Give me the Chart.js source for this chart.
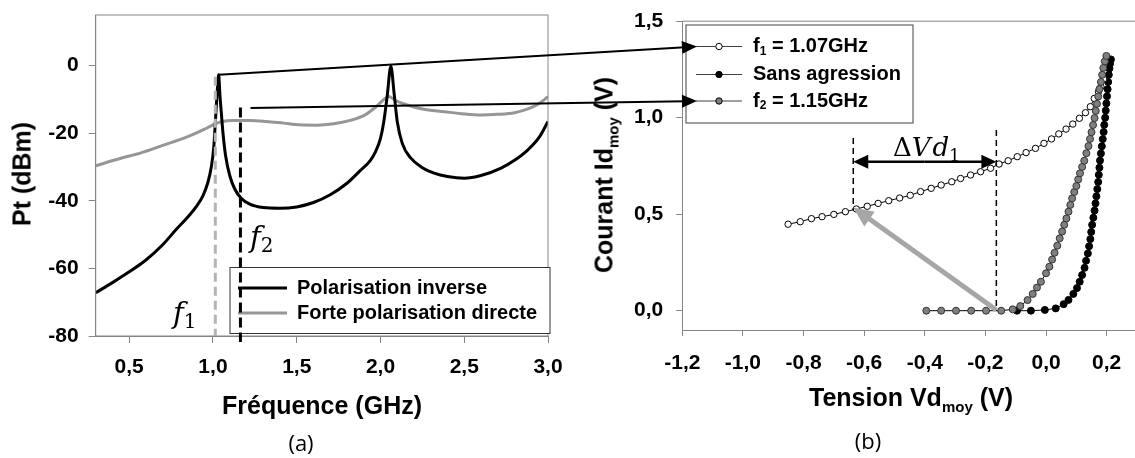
<!DOCTYPE html>
<html>
<head>
<meta charset="utf-8">
<script src="https://cdn.jsdelivr.net/npm/chart.js@4.4.1/dist/chart.umd.min.js"></script>
<style>
  html, body { margin: 0; padding: 0; background: #fff; }
  body { width: 1135px; height: 458px; position: relative; overflow: hidden; font-family: "Liberation Sans", Arial, sans-serif; }
  canvas { position: absolute; top: 0; }
  #chartA { left: 0; }
  #chartB { left: 580px; }
  #overlay { left: 0; pointer-events: none; }
  .lbl { position: absolute; white-space: nowrap; font-weight: bold; font-size: 25px; color: #000; transform: translate(-50%, -50%); }
  .lbl sub { font-size: 15px; vertical-align: -6px; line-height: 0; }
  .rot { transform: translate(-50%, -50%) rotate(-90deg); }
  .panel { position: absolute; font-family: "Open Sans", "Noto Sans", sans-serif; font-size: 22px; color: #000; transform: translate(-50%, -50%); }
</style>
</head>
<body>
<canvas id="chartA" width="580" height="458"></canvas>
<canvas id="chartB" width="562" height="458"></canvas>
<canvas id="overlay" width="1135" height="458"></canvas>
<div class="lbl rot" style="left:22px;top:174px">Pt (dBm)</div>
<div class="lbl" style="left:322px;top:405px">Fréquence (GHz)</div>
<div class="panel" style="left:301px;top:442px">(a)</div>
<div class="lbl rot" style="left:604px;top:175px">Courant Id<sub>moy</sub> (V)</div>
<div class="lbl" style="left:911px;top:397px">Tension Vd<sub>moy</sub> (V)</div>
<div class="panel" style="left:868px;top:440px">(b)</div>
<script>
// (a) puissance transmise en fonction de la fréquence
const freqInverse = [0.30, 0.40, 0.50, 0.60, 0.70, 0.78, 0.85, 0.90, 0.94, 0.97, 0.99, 1.005, 1.015, 1.025, 1.034,
    1.042, 1.050, 1.060, 1.075, 1.10, 1.13, 1.17, 1.22, 1.30, 1.40, 1.50, 1.60, 1.70, 1.80, 1.88, 1.94, 1.97,
    2.00, 2.02, 2.04, 2.062, 2.082, 2.10, 2.13, 2.18, 2.25, 2.32, 2.40, 2.50, 2.60, 2.72, 2.80, 2.88, 2.95, 3.00];
const ptInverse = [-67.2, -64.2, -61.0, -57.5, -53.0, -48.5, -44.8, -41.7, -38.5, -34.5, -30, -24, -16, -8, -2.7,
    -9, -14, -20, -26.5, -32.5, -36.5, -39.3, -41, -42, -42.2, -41.8, -40.5, -38.2, -34.8, -31, -28, -25.5,
    -21.5, -16.5, -9, -0.2, -8.5, -16.5, -23, -27.3, -30.2, -31.8, -32.8, -33.3, -32.5, -30.3, -28, -24.9, -21, -16.5];
const freqDirecte = [0.30, 0.45, 0.57, 0.70, 0.85, 0.95, 1.00, 1.05, 1.12, 1.22, 1.32, 1.42, 1.52, 1.62, 1.72,
    1.82, 1.90, 1.97, 2.02, 2.05, 2.09, 2.15, 2.25, 2.38, 2.50, 2.60, 2.70, 2.80, 2.88, 2.94, 3.00];
const ptDirecte = [-29.6, -27.4, -25.8, -23.6, -21, -18.8, -17.5, -16.6, -16.2, -16.2, -16.5, -17, -17.5, -17.6, -17.2,
    -16.2, -14.8, -12.3, -10, -9.1, -10.3, -11.5, -12.8, -13.6, -14.3, -14.6, -14.4, -13.9, -12.8, -11.4, -9.2];
const ticksFreq = [0.5, 1.0, 1.5, 2.0, 2.5, 3.0];
const ticksPt = [-80, -60, -40, -20, 0];

// (b) courant moyen en fonction de la tension moyenne
const vdF1 = [-0.851, -0.811, -0.774, -0.739, -0.700, -0.662, -0.626, -0.590, -0.554, -0.519, -0.483, -0.448,
    -0.414, -0.379, -0.346, -0.311, -0.282, -0.249, -0.216, -0.183, -0.155, -0.125, -0.095, -0.066, -0.035,
    -0.007, 0.018, 0.042, 0.066, 0.088, 0.110, 0.130, 0.146, 0.159, 0.173, 0.181, 0.190];
const idF1 = [0.448, 0.461, 0.477, 0.487, 0.499, 0.513, 0.527, 0.541, 0.556, 0.570, 0.584, 0.598,
    0.617, 0.634, 0.651, 0.668, 0.685, 0.703, 0.720, 0.738, 0.760, 0.777, 0.798, 0.819, 0.841,
    0.867, 0.890, 0.916, 0.941, 0.967, 0.997, 1.026, 1.057, 1.100, 1.135, 1.160, 1.200];
const vdSans = [-0.096, -0.050, -0.004, 0.032, 0.058, 0.074, 0.090, 0.102, 0.111, 0.119, 0.127, 0.132, 0.138,
    0.142, 0.146, 0.149, 0.152, 0.156, 0.160, 0.163, 0.166, 0.169, 0.172, 0.174, 0.176, 0.178, 0.181, 0.184,
    0.187, 0.190, 0.192, 0.195, 0.197, 0.199, 0.201, 0.203, 0.205, 0.207, 0.209, 0.211, 0.214];
const idSans = [0, 0, 0.004, 0.012, 0.034, 0.056, 0.087, 0.117, 0.150, 0.185, 0.222, 0.259, 0.297,
    0.334, 0.371, 0.408, 0.445, 0.482, 0.519, 0.556, 0.593, 0.630, 0.667, 0.704, 0.741, 0.778, 0.815, 0.852,
    0.889, 0.926, 0.963, 1.000, 1.037, 1.074, 1.111, 1.148, 1.185, 1.222, 1.255, 1.280, 1.302];
const vdF2 = [-0.395, -0.346, -0.297, -0.247, -0.198, -0.148, -0.110, -0.085, -0.061, -0.044, -0.030, -0.017, 0.000,
    0.011, 0.020, 0.028, 0.037, 0.045, 0.053, 0.060, 0.067, 0.074, 0.080, 0.086, 0.093, 0.100, 0.106, 0.112,
    0.119, 0.126, 0.133, 0.140, 0.145, 0.150, 0.155, 0.160, 0.164, 0.168, 0.172, 0.176, 0.181, 0.185, 0.189,
    0.194, 0.199];
const idF2 = [0, 0, 0, 0, 0, 0, 0.007, 0.024, 0.055, 0.087, 0.120, 0.150, 0.194,
    0.228, 0.265, 0.300, 0.337, 0.375, 0.410, 0.445, 0.478, 0.513, 0.548, 0.582, 0.615, 0.646, 0.680, 0.712,
    0.745, 0.777, 0.816, 0.853, 0.890, 0.925, 0.962, 0.998, 1.035, 1.072, 1.110, 1.148, 1.185, 1.222, 1.258,
    1.292, 1.320];
const ticksVd = [-1.2, -1.0, -0.8, -0.6, -0.4, -0.2, 0.0, 0.2];
const ticksId = [0, 0.5, 1.0, 1.5];

// annotations (valeurs dans les unités des axes)
const fLines = [1.014, 1.164];          // traits f1, f2 sur (a)
const fTops = [-3.3, -12.4];
const linkFrom = [[1.034, -2.7], [1.224, -12.5]];  // départ des flèches vers la légende (b)
const dVd1 = [-0.636, -0.164];

const toPoints = (xs, ys) => xs.map((x, i) => ({x: x, y: ys[i]}));
const comma = v => v.toFixed(1).replace('.', ',');
const AXIS_GRAY = '#868686';
const TICK_FONT = {family: 'Liberation Sans', size: 21, weight: 'bold'};
const MATH = '"DejaVu Serif"';

const axis = (min, max, ticks, fmt, size, isX, tickLen, pad) => ({
    type: 'linear', min: min, max: max,
    afterBuildTicks: s => { s.ticks = ticks.map(v => ({value: v})); },
    afterFit: s => {
        if (isX) s.height = size; else s.width = size;
        s.paddingLeft = s.paddingRight = s.paddingTop = s.paddingBottom = 0;
    },
    grid: {drawOnChartArea: false, drawTicks: true, tickLength: tickLen, color: AXIS_GRAY},
    border: {color: AXIS_GRAY, width: 1},
    ticks: {font: TICK_FONT, color: '#000', padding: pad, autoSkip: false, maxRotation: 0, callback: v => fmt(v)}
});

const arrow = (ctx, x1, y1, x2, y2, len, half, width) => {
    const a = Math.atan2(y2 - y1, x2 - x1);
    const c = Math.cos(a), s = Math.sin(a);
    ctx.lineWidth = width;
    ctx.beginPath();
    ctx.moveTo(x1, y1);
    ctx.lineTo(x2 - len * 0.8 * c, y2 - len * 0.8 * s);
    ctx.stroke();
    ctx.beginPath();
    ctx.moveTo(x2, y2);
    ctx.lineTo(x2 - len * c + half * s, y2 - len * s - half * c);
    ctx.lineTo(x2 - len * c - half * s, y2 - len * s + half * c);
    ctx.closePath();
    ctx.fill();
};

const subText = (ctx, x, y, main, sub, rest, font, subFont) => {
    ctx.font = font;
    ctx.fillText(main, x, y);
    x += ctx.measureText(main).width;
    ctx.font = subFont;
    ctx.fillText(sub, x, y + 5);
    x += ctx.measureText(sub).width;
    if (rest) {
        ctx.font = font;
        ctx.fillText(rest, x, y);
    }
};

const panelA = {
    id: 'panelA',
    afterDraw(chart) {
        const {ctx, chartArea: ca, scales: {x, y}} = chart;
        ctx.save();
        ctx.strokeStyle = AXIS_GRAY;
        ctx.lineWidth = 1;
        ctx.strokeRect(ca.left, ca.top, ca.right - ca.left, ca.bottom - ca.top);

        // trait f1
        ctx.setLineDash([9, 5]);
        ctx.lineWidth = 3;
        ctx.strokeStyle = '#b4b4b4';
        const x1 = x.getPixelForValue(fLines[0]);
        ctx.beginPath();
        ctx.moveTo(x1, y.getPixelForValue(fTops[0]));
        ctx.lineTo(x1, ca.bottom);
        ctx.stroke();
        ctx.setLineDash([]);

        // légende
        const lx = 230, ly = 267.5, lw = 320, lh = 66;
        ctx.fillStyle = '#fff';
        ctx.fillRect(lx, ly, lw, lh);
        ctx.strokeStyle = '#333';
        ctx.lineWidth = 1;
        ctx.strokeRect(lx, ly, lw, lh);
        ctx.font = 'bold 20px "Liberation Sans"';
        ctx.textBaseline = 'middle';
        chart.data.datasets.forEach((ds, i) => {
            const ry = 288 + i * 25;
            ctx.strokeStyle = ds.borderColor;
            ctx.lineWidth = 3;
            ctx.beginPath();
            ctx.moveTo(lx + 8, ry);
            ctx.lineTo(lx + 57, ry);
            ctx.stroke();
            ctx.fillStyle = '#000';
            ctx.fillText(ds.label, lx + 67, ry);
        });

        // trait f2
        ctx.setLineDash([10, 5]);
        ctx.lineWidth = 3;
        ctx.strokeStyle = '#000';
        const x2 = x.getPixelForValue(fLines[1]);
        ctx.beginPath();
        ctx.moveTo(x2, y.getPixelForValue(fTops[1]));
        ctx.lineTo(x2, ca.bottom + 6);
        ctx.stroke();
        ctx.setLineDash([]);

        // f1, f2
        ctx.fillStyle = '#000';
        ctx.textBaseline = 'alphabetic';
        subText(ctx, 173, 323, 'f', '1', '', 'italic 29px ' + MATH, '20px ' + MATH);
        subText(ctx, 250, 247, 'f', '2', '', 'italic 29px ' + MATH, '20px ' + MATH);
        ctx.restore();
    }
};

const LEG_B = {x: 106, y: 25, w: 227, h: 98, rows: [46.5, 74.5, 101]};

const panelB = {
    id: 'panelB',
    afterDraw(chart) {
        const {ctx, chartArea: ca, scales: {x, y}} = chart;
        ctx.save();
        ctx.strokeStyle = AXIS_GRAY;
        ctx.lineWidth = 1;
        ctx.beginPath();
        ctx.moveTo(ca.left, ca.top);
        ctx.lineTo(ca.right, ca.top);
        ctx.lineTo(ca.right, ca.bottom);
        ctx.stroke();

        // légende
        ctx.fillStyle = '#fff';
        ctx.fillRect(LEG_B.x, LEG_B.y, LEG_B.w, LEG_B.h);
        ctx.strokeStyle = '#404040';
        ctx.strokeRect(LEG_B.x, LEG_B.y, LEG_B.w, LEG_B.h);
        const entries = [
            {ds: 1, main: 'f', sub: '1', rest: ' = 1.07GHz'},
            {ds: 2, main: 'Sans agression'},
            {ds: 0, main: 'f', sub: '2', rest: ' = 1.15GHz'}
        ];
        ctx.textBaseline = 'middle';
        entries.forEach((e, i) => {
            const ds = chart.data.datasets[e.ds];
            const ry = LEG_B.rows[i];
            ctx.strokeStyle = '#404040';
            ctx.lineWidth = 1;
            ctx.beginPath();
            ctx.moveTo(LEG_B.x + 10, ry);
            ctx.lineTo(LEG_B.x + 56, ry);
            ctx.stroke();
            ctx.beginPath();
            ctx.arc(LEG_B.x + 33, ry, 3.2, 0, Math.PI * 2);
            ctx.fillStyle = ds.pointBackgroundColor;
            ctx.fill();
            ctx.strokeStyle = '#000';
            ctx.stroke();
            ctx.fillStyle = '#000';
            if (e.sub) {
                subText(ctx, LEG_B.x + 67, ry, e.main, e.sub, e.rest, 'bold 20px "Liberation Sans"', 'bold 12px "Liberation Sans"');
            } else {
                ctx.font = 'bold 20px "Liberation Sans"';
                ctx.fillText(e.main, LEG_B.x + 67, ry);
            }
        });

        // ΔVd1
        const xa = x.getPixelForValue(dVd1[0]), xb = x.getPixelForValue(dVd1[1]);
        ctx.strokeStyle = '#000';
        ctx.setLineDash([6, 4]);
        ctx.lineWidth = 1.5;
        ctx.beginPath();
        ctx.moveTo(xa, y.getPixelForValue(0.895));
        ctx.lineTo(xa, y.getPixelForValue(0.52));
        ctx.moveTo(xb, y.getPixelForValue(0.936));
        ctx.lineTo(xb, y.getPixelForValue(0.0));
        ctx.stroke();
        ctx.setLineDash([]);

        const ya = y.getPixelForValue(0.772);
        ctx.fillStyle = '#000';
        arrow(ctx, (xa + xb) / 2, ya, xb, ya, 15, 7, 2.5);
        arrow(ctx, (xa + xb) / 2, ya, xa, ya, 15, 7, 2.5);

        ctx.fillStyle = '#a6a6a6';
        ctx.strokeStyle = '#a6a6a6';
        arrow(ctx, xb, y.getPixelForValue(0.004), xa, y.getPixelForValue(0.535), 20, 9, 5);

        ctx.fillStyle = '#000';
        ctx.textBaseline = 'alphabetic';
        ctx.font = '26px ' + MATH;
        let tx = 313;
        ctx.fillText('Δ', tx, 156);
        tx += ctx.measureText('Δ').width;
        ctx.font = 'italic 26px ' + MATH;
        ctx.fillText('V', tx, 156);
        tx += ctx.measureText('V').width + 2;
        subText(ctx, tx, 156, 'd', '1', '', 'italic 26px ' + MATH, '17px ' + MATH);
        ctx.restore();
    }
};

const common = {
    animation: false,
    responsive: false,
    devicePixelRatio: 1,
    events: [],
    plugins: {legend: {display: false}, tooltip: {enabled: false}}
};

const chartA = new Chart(document.getElementById('chartA').getContext('2d'), {
    type: 'line',
    data: {
        datasets: [{
            label: 'Polarisation inverse',
            data: toPoints(freqInverse, ptInverse),
            borderColor: '#000',
            borderWidth: 3,
            pointRadius: 0,
            cubicInterpolationMode: 'monotone'
        }, {
            label: 'Forte polarisation directe',
            data: toPoints(freqDirecte, ptDirecte),
            borderColor: '#969696',
            borderWidth: 3,
            pointRadius: 0,
            cubicInterpolationMode: 'monotone'
        }]
    },
    options: Object.assign({}, common, {
        layout: {padding: {left: 0, right: 32, top: 15, bottom: 62}},
        scales: {
            x: axis(0.3, 3.0, ticksFreq, comma, 60, true, 7, 12),
            y: axis(-80, 15, ticksPt, v => String(v), 95.7, false, 7, 10)
        }
    }),
    plugins: [panelA]
});

const chartB = new Chart(document.getElementById('chartB').getContext('2d'), {
    type: 'line',
    data: {
        datasets: [{
            label: 'f2 = 1.15GHz',
            data: toPoints(vdF2, idF2),
            borderColor: '#000',
            borderWidth: 1,
            pointRadius: 3.5,
            pointBorderWidth: 1,
            pointBorderColor: '#333',
            pointBackgroundColor: '#7f7f7f'
        }, {
            label: 'f1 = 1.07GHz',
            data: toPoints(vdF1, idF1),
            borderColor: '#000',
            borderWidth: 1,
            pointRadius: 3.2,
            pointBorderWidth: 1,
            pointBorderColor: '#000',
            pointBackgroundColor: '#fff'
        }, {
            label: 'Sans agression',
            data: toPoints(vdSans, idSans),
            borderColor: '#000',
            borderWidth: 1,
            pointRadius: 3.5,
            pointBorderWidth: 1,
            pointBorderColor: '#000',
            pointBackgroundColor: '#000'
        }]
    },
    options: Object.assign({}, common, {
        layout: {padding: {left: 0, right: 3.3, top: 21.2, bottom: 68}},
        scales: {
            x: axis(-1.2, 0.3, ticksVd, comma, 60, true, 6, 15),
            y: axis(-0.1, 1.5, ticksId, comma, 102.3, false, 6, 13)
        }
    }),
    plugins: [panelB]
});

// flèches reliant les pics de (a) à la légende de (b)
const drawLinks = () => {
    const ctx = document.getElementById('overlay').getContext('2d');
    const ax = chartA.scales.x, ay = chartA.scales.y;
    const offB = 580;
    ctx.strokeStyle = '#000';
    ctx.fillStyle = '#000';
    linkFrom.forEach((p, i) => {
        const x1 = ax.getPixelForValue(p[0]), y1 = ay.getPixelForValue(p[1]);
        const x2 = offB + LEG_B.x + 11, y2 = LEG_B.rows[i * 2];
        arrow(ctx, x1, y1, x2, y2, 15, 6.5, 2);
    });
};
drawLinks();
</script>
</body>
</html>
